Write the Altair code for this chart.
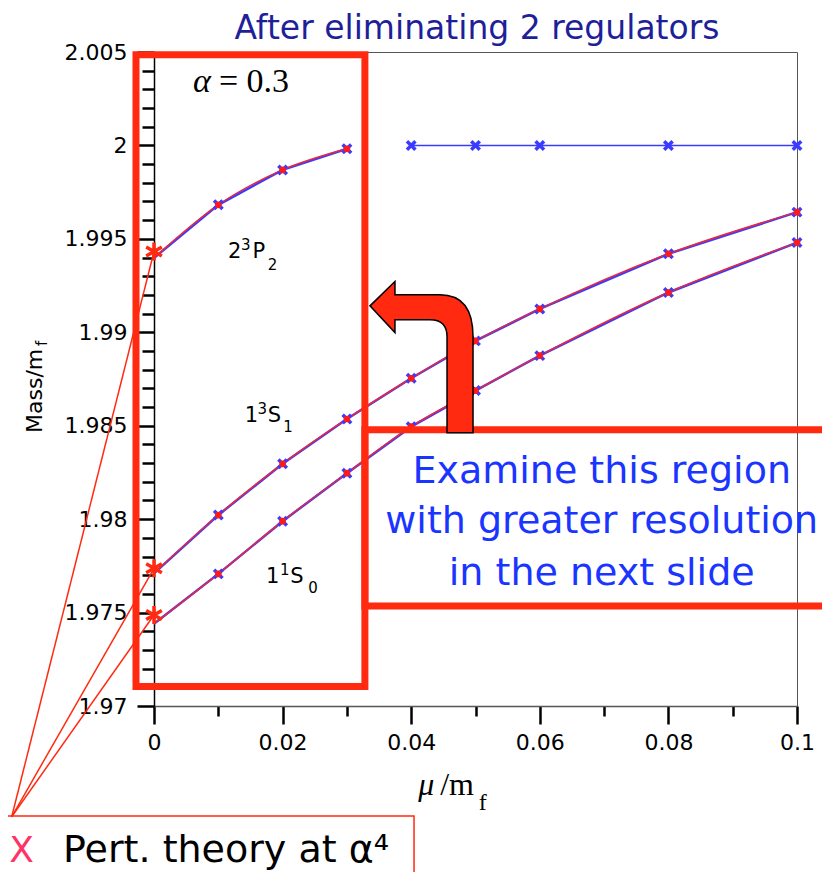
import altair as alt
import pandas as pd

# ---------------- data ----------------
mu = [0.0, 0.01, 0.02, 0.03, 0.04, 0.05, 0.06, 0.08, 0.1]
mass_1S1 = [1.9771, 1.98022, 1.98296, 1.98536, 1.98754, 1.98954, 1.99125, 1.9942, 1.99643]
mass_1S0 = [1.9744, 1.97707, 1.97989, 1.98246, 1.98495, 1.98688, 1.98875, 1.99213, 1.9948]
mu_2P2 = [0.0, 0.01, 0.02, 0.03]
mass_2P2 = [1.99398, 1.99682, 1.99869, 1.99982]
mu_flat = [0.04, 0.05, 0.06, 0.08, 0.1]
mass_flat = [2.0, 2.0, 2.0, 2.0, 2.0]
pert_mass = [1.99432, 1.97737, 1.97487]   # perturbation theory at mu = 0

# state labels split into main / superscript / subscript pieces
lab_main = ["2", "P", "1", "S", "1", "S"]
lab_main_x = [0.0115, 0.0153, 0.0141, 0.0177, 0.0174, 0.0212]
lab_main_y = [1.99398, 1.99398, 1.98520, 1.98520, 1.97659, 1.97659]
lab_sup = ["3", "3", "1"]
lab_sup_x = [0.01353, 0.0161, 0.0196]
lab_sup_y = [1.99441, 1.98563, 1.97702]
lab_sub = ["2", "1", "0"]
lab_sub_x = [0.0177, 0.0201, 0.0240]
lab_sub_y = [1.99334, 1.98466, 1.97605]

x_ticks = [round(i * 0.01, 2) for i in range(11)]
y_ticks = [round(1.97 + i * 0.001, 3) for i in range(36)]

# ---------------- styling ----------------
RED = "#ff2a10"
FIT_RED = "#e8283c"
BLUE = "#3b3bff"
SANS = "DejaVu Sans"
SERIF = "Liberation Serif"

curves = pd.DataFrame(
    [{"x": a, "y": b, "s": "1S1"} for a, b in zip(mu, mass_1S1)]
    + [{"x": a, "y": b, "s": "1S0"} for a, b in zip(mu, mass_1S0)]
    + [{"x": a, "y": b, "s": "2P2"} for a, b in zip(mu_2P2, mass_2P2)]
)
flat = pd.DataFrame({"x": mu_flat, "y": mass_flat})
pert = pd.DataFrame({"x": [0.0] * 3, "y": pert_mass, "x2": [-0.02213] * 3, "y2": [1.96407] * 3})

xscale = alt.Scale(domain=[0, 0.1], nice=False, zero=False)
yscale = alt.Scale(domain=[1.97, 2.005], nice=False, zero=False)

xaxis = alt.Axis(
    values=x_ticks,
    labelExpr="abs(datum.value*50 - round(datum.value*50)) < 1e-6 ? format(datum.value, '~g') : ''",
    tickSize={"condition": {"test": "abs(datum.value*50 - round(datum.value*50)) < 1e-6", "value": 18}, "value": 10},
    tickWidth=2.5, tickColor="black", domainColor="#555555", domainWidth=1.5,
    labelFont=SANS, labelFontSize=22, labelColor="black", labelPadding=8,
    grid=False, title=None, labelFlush=False,
)
yaxis = alt.Axis(
    values=y_ticks,
    labelExpr="abs(datum.value*200 - round(datum.value*200)) < 1e-6 ? format(datum.value, '.3~f') : ''",
    tickSize={"condition": {"test": "abs(datum.value*200 - round(datum.value*200)) < 1e-6", "value": 17}, "value": 12},
    tickWidth=2.5, tickColor="black", domainColor="black", domainWidth=1.5,
    labelFont=SANS, labelFontSize=22, labelColor="black", labelPadding=10,
    grid=False, title=None, labelFlush=False,
)
X = alt.X("x:Q", scale=xscale, axis=xaxis)
Y = alt.Y("y:Q", scale=yscale, axis=yaxis)

base = alt.Chart(curves)

blue_lines = base.mark_line(color=BLUE, strokeWidth=2.5).encode(x=X, y=Y, detail="s:N")
fit_lines = base.mark_line(color=FIT_RED, strokeWidth=1.5, interpolate="monotone").encode(x=X, y=Y, detail="s:N")
flat_line = alt.Chart(flat).mark_line(color=BLUE, strokeWidth=1.5).encode(x=X, y=Y)

XSHAPE = "M -1 -1 L 1 1 M -1 1 L 1 -1"
blue_x = base.transform_filter("datum.x > 0").mark_point(
    shape=XSHAPE, size=72, filled=False, color=BLUE, strokeWidth=3.5, opacity=1
).encode(x=X, y=Y)
flat_x = alt.Chart(flat).mark_point(
    shape=XSHAPE, size=72, filled=False, color=BLUE, strokeWidth=3.5, opacity=1
).encode(x=X, y=Y)
red_dots = base.transform_filter("datum.x > 0").mark_circle(size=45, color="#ff1a1a", opacity=1).encode(x=X, y=Y)

# annotation boxes
alpha_box = alt.Chart(pd.DataFrame({"x": [-0.0028], "x2": [0.0328], "y": [2.00485], "y2": [1.97104]})).mark_rect(
    fillOpacity=0, stroke=RED, strokeWidth=7
).encode(x=X, x2="x2", y=Y, y2="y2")
exam_box = alt.Chart(pd.DataFrame({"x": [0.0328], "x2": [0.1058], "y": [1.98478], "y2": [1.97535]})).mark_rect(
    fillOpacity=0, stroke=RED, strokeWidth=7
).encode(x=X, x2="x2", y=Y, y2="y2")
legend_box = alt.Chart(pd.DataFrame({"x": [-0.0245], "x2": [0.04044], "y": [1.96411], "y2": [1.955]})).mark_rect(
    fillOpacity=0, stroke=RED, strokeWidth=1.5
).encode(x=X, x2="x2", y=Y, y2="y2")

pert_lines = alt.Chart(pert).mark_rule(color=RED, strokeWidth=1.5).encode(x=X, y=Y, x2="x2", y2="y2")
AST = "M 0 -1 L 0 1 M -0.87 -0.5 L 0.87 0.5 M -0.87 0.5 L 0.87 -0.5"
pert_pts = alt.Chart(pert).mark_point(
    shape=AST, size=324, filled=False, color=RED, strokeWidth=3.5, opacity=1
).encode(x=X, y=Y)

ARROW = ("M -0.678 -0.675 L -0.349 -0.995 L -0.349 -0.82 L 0.243 -0.82 "
         "Q 0.678 -0.82 0.678 -0.267 L 0.678 0.995 L 0.336 0.995 L 0.336 -0.267 "
         "Q 0.336 -0.491 0.112 -0.491 L -0.349 -0.491 L -0.349 -0.324 Z")
arrow = alt.Chart(pd.DataFrame({"x": [0.0416], "y": [1.98867]})).mark_point(
    shape=ARROW, size=23104, filled=True, fill=RED, stroke="black", strokeWidth=1.5,
    opacity=1, fillOpacity=1, strokeOpacity=1
).encode(x=X, y=Y)

def text_layer(rows, **kw):
    return alt.Chart(pd.DataFrame(rows)).mark_text(**kw).encode(x=X, y=Y, text="t:N")

title_t = text_layer({"x": [0.05023], "y": [2.00568], "t": ["After eliminating 2 regulators"]},
                     font=SANS, fontSize=33, color="#1f1f9a", align="center", baseline="alphabetic")
alpha_sym = text_layer({"x": [0.00607], "y": [2.00287], "t": ["α"]},
                       font=SERIF, fontSize=34, fontStyle="italic", color="black", align="left", baseline="alphabetic")
alpha_val = text_layer({"x": [0.0101], "y": [2.00287], "t": ["= 0.3"]},
                       font=SERIF, fontSize=34, color="black", align="left", baseline="alphabetic")
state_main = text_layer({"x": lab_main_x, "y": lab_main_y, "t": lab_main},
                        font=SANS, fontSize=21, color="black", align="left", baseline="alphabetic")
state_sup = text_layer({"x": lab_sup_x, "y": lab_sup_y, "t": lab_sup},
                       font=SANS, fontSize=15, color="black", align="left", baseline="alphabetic")
state_sub = text_layer({"x": lab_sub_x, "y": lab_sub_y, "t": lab_sub},
                       font=SANS, fontSize=15, color="black", align="left", baseline="alphabetic")
exam_t = text_layer({"x": [0.06963] * 3, "y": [1.98192, 1.97926, 1.97648],
                     "t": ["Examine this region", "with greater resolution", "in the next slide"]},
                    font=SANS, fontSize=38, color="#1a35ff", align="center", baseline="alphabetic")
leg_x = text_layer({"x": [-0.0225], "y": [1.96165], "t": ["X"]},
                   font=SANS, fontSize=36, color="#ff3366", align="left", baseline="alphabetic")
leg_t = text_layer({"x": [-0.01415], "y": [1.96165], "t": ["Pert. theory at α⁴"]},
                   font=SANS, fontSize=38, color="black", align="left", baseline="alphabetic")
xt_mu = text_layer({"x": [0.0411], "y": [1.96524], "t": ["μ"]},
                   font=SERIF, fontSize=32, fontStyle="italic", color="black", align="left", baseline="alphabetic")
xt_m = text_layer({"x": [0.0445], "y": [1.96524], "t": ["/m"]},
                  font=SERIF, fontSize=32, color="black", align="left", baseline="alphabetic")
xt_f = text_layer({"x": [0.0505], "y": [1.96443], "t": ["f"]},
                  font=SERIF, fontSize=24, color="black", align="left", baseline="alphabetic")
yt_m = text_layer({"x": [-0.01742], "y": [1.98461], "t": ["Mass/m"]},
                  font=SANS, fontSize=22, color="black", align="left", baseline="alphabetic", angle=270)
yt_f = text_layer({"x": [-0.01664], "y": [1.98927], "t": ["f"]},
                  font=SANS, fontSize=15, color="black", align="left", baseline="alphabetic", angle=270)

chart = alt.layer(
    blue_lines, flat_line, fit_lines, blue_x, flat_x, red_dots,
    alpha_box, pert_lines, pert_pts, exam_box, arrow, legend_box,
    title_t, alpha_sym, alpha_val, state_main, state_sup, state_sub, exam_t, leg_x, leg_t,
    xt_mu, xt_m, xt_f, yt_m, yt_f,
).properties(
    width=643, height=654,
    autosize=alt.AutoSizeParams(type="none"),
    padding={"left": 146, "top": 44, "right": 25, "bottom": 166},
).configure_view(stroke="#555555", strokeWidth=1)

chart.save("out.html", embed_options={"renderer": "svg", "actions": False})
